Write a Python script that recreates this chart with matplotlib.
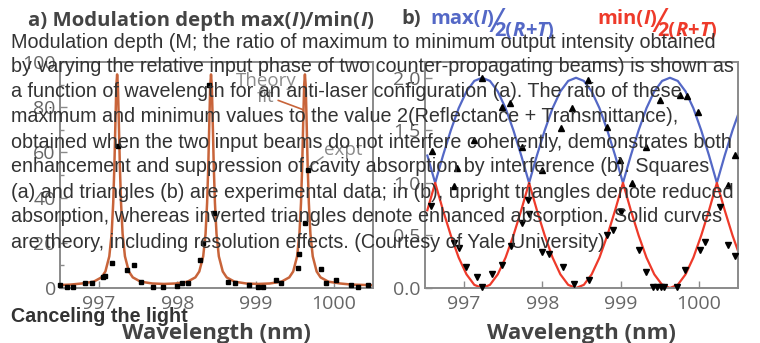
import numpy as np
import matplotlib
matplotlib.use("Agg")
import matplotlib.pyplot as plt

W, H = 760, 343

# --- panel a: modulation depth (squares = expt, line = theory fit)
sq_wl = [996.50, 996.59, 996.67, 996.82, 996.91, 997.05, 997.07, 997.17, 997.24, 997.36,
         997.44, 997.53, 997.69, 997.81, 998.00, 998.06, 998.14, 998.29, 998.33, 998.40,
         998.47, 998.65, 998.74, 998.91, 999.03, 999.10, 999.26, 999.32, 999.54, 999.55,
         999.63, 999.67, 999.83, 999.90, 1000.03, 1000.22, 1000.31, 1000.44]
sq_md = [1.3, 0.4, 0.4, 2.2, 2.2, 4.8, 5.5, 10.9, 63.0, 7.8,
         10.0, 2.6, 0.4, 0.4, 0.9, 2.2, 2.2, 12.6, 20.0, 90.0,
         33.0, 2.6, 2.2, 1.3, 0.4, 0.4, 3.5, 2.2, 8.7, 15.2,
         28.7, 52.0, 8.3, 2.2, 3.5, 1.3, 0.4, 1.3]

fit_wl = [996.50, 996.63, 996.78, 996.93, 997.03, 997.08, 997.13, 997.16, 997.18, 997.195,
          997.21, 997.22, 997.23, 997.24, 997.25, 997.265, 997.28, 997.30, 997.33, 997.38,
          997.43, 997.53, 997.68, 997.83,
          997.98, 998.13, 998.23, 998.28, 998.33, 998.36, 998.38, 998.395, 998.41, 998.42,
          998.43, 998.44, 998.45, 998.465, 998.48, 998.50, 998.53, 998.58, 998.63, 998.73,
          998.88, 999.03,
          999.18, 999.33, 999.43, 999.48, 999.53, 999.56, 999.58, 999.595, 999.61, 999.62,
          999.63, 999.64, 999.65, 999.665, 999.68, 999.70, 999.73, 999.78, 999.83, 999.93,
          1000.08, 1000.23, 1000.50]
fit_md = [1.3, 1.5, 2.0, 2.8, 4.7, 7.3, 14.0, 24.0, 37.7, 54.0,
          76.0, 89.5, 94.5, 89.5, 76.0, 54.0, 37.7, 24.0, 14.0, 7.3,
          4.7, 2.8, 2.0, 1.8,
          2.0, 2.8, 4.7, 7.3, 14.0, 24.0, 37.7, 54.0, 76.0, 89.5,
          94.5, 89.5, 76.0, 54.0, 37.7, 24.0, 14.0, 7.3, 4.7, 2.8,
          2.0, 1.8,
          2.0, 2.8, 4.7, 7.3, 14.0, 24.0, 37.7, 54.0, 76.0, 89.5,
          94.5, 89.5, 76.0, 54.0, 37.7, 24.0, 14.0, 7.3, 4.7, 2.8,
          2.0, 1.5, 1.25]

# --- panel b: max(I)/2(R+T) and min(I)/2(R+T)
curve_wl = [996.53, 996.63, 996.73, 996.83, 996.93, 997.03, 997.13, 997.23, 997.33, 997.43,
            997.53, 997.63, 997.73, 997.83, 997.93, 998.03, 998.13, 998.23, 998.33, 998.43,
            998.53, 998.63, 998.73, 998.83, 998.93, 999.03, 999.13, 999.23, 999.33, 999.43,
            999.53, 999.63, 999.73, 999.83, 999.93, 1000.03, 1000.13, 1000.23, 1000.33, 1000.43,
            1000.53]
max_curve = [1.26, 1.00, 1.26, 1.50, 1.71, 1.87, 1.97, 2.00, 1.97, 1.87,
             1.71, 1.50, 1.26, 1.00, 1.26, 1.50, 1.71, 1.87, 1.97, 2.00,
             1.97, 1.87, 1.71, 1.50, 1.26, 1.00, 1.26, 1.50, 1.71, 1.87,
             1.97, 2.00, 1.97, 1.87, 1.71, 1.50, 1.26, 1.00, 1.26, 1.50,
             1.71]
min_curve = [0.74, 1.00, 0.74, 0.50, 0.29, 0.13, 0.03, 0.00, 0.03, 0.13,
             0.29, 0.50, 0.74, 1.00, 0.74, 0.50, 0.29, 0.13, 0.03, 0.00,
             0.03, 0.13, 0.29, 0.50, 0.74, 1.00, 0.74, 0.50, 0.29, 0.13,
             0.03, 0.00, 0.03, 0.13, 0.29, 0.50, 0.74, 1.00, 0.74, 0.50,
             0.29]

up_wl = [996.59, 996.87, 996.91, 997.13, 997.23, 997.49, 997.58, 997.74, 998.00, 998.24,
         998.38, 998.58, 998.83, 998.99, 999.15, 999.33, 999.50, 999.76, 999.85, 999.99,
         1000.37, 1000.46]
up_val = [1.30, 0.97, 1.14, 1.41, 2.00, 1.72, 1.76, 1.34, 1.12, 1.52,
          1.71, 1.98, 1.53, 1.22, 1.00, 1.34, 1.79, 1.84, 1.83, 1.67,
          0.98, 1.27]
dn_wl = [996.58, 996.87, 996.94, 997.03, 997.17, 997.23, 997.35, 997.49, 997.60, 997.74,
         997.83, 997.81, 998.00, 998.09, 998.26, 998.41, 998.60, 998.82, 998.90, 999.00,
         999.24, 999.33, 999.41, 999.46, 999.51, 999.56, 999.72, 999.82, 1000.01, 1000.08,
         1000.27, 1000.37, 1000.46]
dn_val = [0.78, 0.43, 0.38, 0.20, 0.10, 0.01, 0.13, 0.22, 0.40, 0.62,
          0.70, 0.84, 0.34, 0.32, 0.20, 0.04, 0.08, 0.50, 0.55, 0.72,
          0.36, 0.15, 0.01, 0.01, 0.01, 0.01, 0.01, 0.17, 0.36, 0.44,
          0.77, 0.41, 0.30]

caption = [
    "Modulation depth (M; the ratio of maximum to minimum output intensity obtained",
    "by varying the relative input phase of two counter-propagating beams) is shown as",
    "a function of wavelength for an anti-laser configuration (a). The ratio of these",
    "maximum and minimum values to the value 2(Reflectance + Transmittance),",
    "obtained when the two input beams do not interfere coherently, demonstrates both",
    "enhancement and suppression of cavity absorption by interference (b). Squares",
    "(a) and triangles (b) are experimental data; in (b), upright triangles denote reduced",
    "absorption, whereas inverted triangles denote enhanced absorption. Solid curves",
    "are theory, including resolution effects. (Courtesy of Yale University)",
]

FIT = "#c8643a"
BLUE = "#5468c6"
RED = "#ee3a2a"
GREY = "#8a8a8a"
LAB = "#666666"
HEAD = "#444444"
plt.rcParams["font.family"] = ["Open Sans", "DejaVu Sans"]

fig = plt.figure(figsize=(W / 100, H / 100), dpi=100)
fig.patch.set_facecolor("white")


def box(left, top, right, bottom):
    return [left / W, 1 - bottom / H, (right - left) / W, (bottom - top) / H]


def style(ax):
    for s in ax.spines.values():
        s.set_color(GREY)
        s.set_linewidth(1.4)
    ax.tick_params(direction="in", length=5, width=1, color=GREY,
                   labelcolor=LAB, labelsize=14, pad=3)
    ax.tick_params(axis="x", pad=5)
    ax.tick_params(which="minor", direction="in", length=3, width=1, color=GREY)
    ax.set_xlim(996.5, 1000.5)
    ax.set_xticks([997, 998, 999, 1000])
    ax.set_xlabel("Wavelength (nm)", fontsize=16, fontweight="bold",
                  color=HEAD, labelpad=7)


axa = fig.add_axes(box(60, 62, 373, 288))
style(axa)
axa.plot(fit_wl, fit_md, color=FIT, lw=1.8, zorder=2)
axa.plot(sq_wl, sq_md, "s", color="black", ms=3.3, zorder=3, clip_on=False)
axa.set_ylim(0, 100)
axa.set_yticks([0, 20, 40, 60, 80, 100])
axa.set_yticks([10, 30, 50, 70, 90], minor=True)
axa.text(999.13, 88, "Theory\nfit", color=GREY, fontsize=13.5, ha="center",
         va="center", linespacing=0.85)
axa.plot([999.29, 999.6], [83, 79], color=FIT, lw=1.2)
axa.text(999.87, 57, "expt", color=GREY, fontsize=13.5, ha="left", va="bottom")
axa.plot([999.86, 999.68], [58, 53.5], color=GREY, lw=1)

axb = fig.add_axes(box(425, 62, 738, 288))
style(axb)
axb.plot(curve_wl, max_curve, color=BLUE, lw=1.6, zorder=2)
axb.plot(curve_wl, min_curve, color=RED, lw=1.6, zorder=2)
axb.plot(up_wl, up_val, "^", color="black", ms=3.8, zorder=3, clip_on=False)
axb.plot(dn_wl, dn_val, "v", color="black", ms=3.8, zorder=3, clip_on=False)
axb.set_ylim(0, 2.15)
axb.set_yticks([0.0, 0.5, 1.0, 1.5, 2.0])
axb.set_yticklabels(["0.0", "0.5", "1.0", "1.5", "2.0"])

renderer = fig.canvas.get_renderer()


def pieces(x, y, parts, size=14.7):
    # draw text fragments one after another, left to right (pixel coords)
    for s, color, italic, dy, gap, fs in parts:
        t = fig.text(x / W, 1 - (y + dy) / H, s, color=color, fontsize=fs or size,
                     fontweight="normal" if s == "/" else "bold",
                     style="italic" if italic else "normal",
                     ha="left", va="center")
        x = t.get_window_extent(renderer).x1 + gap
    return x


pieces(28, 21, [("a) Modulation depth max(", HEAD, False, 0, 0, None),
                ("I", HEAD, True, 0, 0, None), (")/min(", HEAD, False, 0, 0, None),
                ("I", HEAD, True, 0, 0, None), (")", HEAD, False, 0, 0, None)])

pieces(401, 19, [("b)", HEAD, False, 0, 0, 14.5)])
for x0, col, word in [(430, BLUE, "max("), (597, RED, "min(")]:
    pieces(x0, 19, [(word, col, False, 0, 0, 14.5), ("I", col, True, 0, 0, 14.5),
                    (")", col, False, 0, -3, 14.5), ("/", col, True, 5, -8, 24),
                    ("2(", col, False, 12, 0, 14.5), ("R", col, True, 12, 0, 14.5),
                    ("+", col, False, 12, 0, 14.5), ("T", col, True, 12, 0, 14.5),
                    (")", col, False, 12, 0, 14.5)])

for i, line in enumerate(caption):
    fig.text(11 / W, 1 - (42 + 25 * i) / H, line, color="#333333",
             family=["Liberation Sans", "DejaVu Sans"], fontsize=14.2,
             ha="left", va="center", zorder=10)
fig.text(11 / W, 1 - 316 / H, "Canceling the light", color="#333333",
         family=["Liberation Sans", "DejaVu Sans"], fontsize=14.2,
         fontweight="bold", ha="left", va="center", zorder=10)

fig.savefig("out.png", dpi=100, facecolor="white")
